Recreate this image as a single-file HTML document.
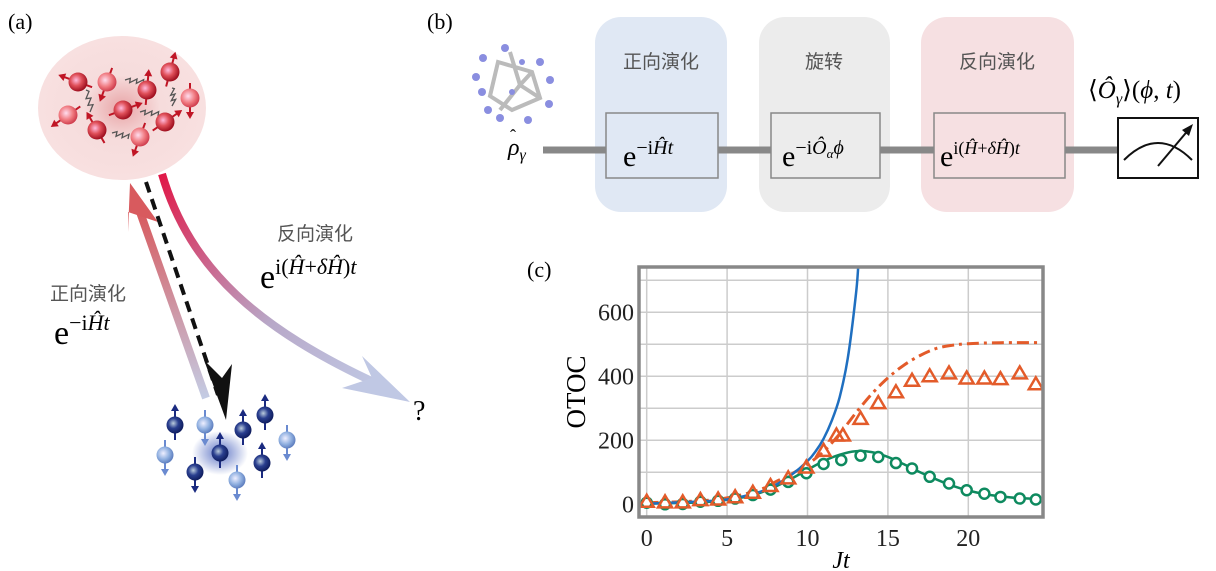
<!DOCTYPE html>
<html><head><meta charset="utf-8"><style>
body{margin:0;background:#fff;width:1216px;height:571px;overflow:hidden}
svg{display:block}
text{font-family:"Liberation Serif","Noto Serif CJK SC",serif}
.cjk{font-family:"Liberation Sans","Noto Sans CJK SC",sans-serif;fill:#555}
</style></head><body>
<svg id="fig" width="1216" height="571" viewBox="0 0 1216 571">
<defs>
<radialGradient id="pinkbg" cx="0.5" cy="0.5" r="0.5"><stop offset="0" stop-color="#e8a4a6"/><stop offset="0.45" stop-color="#f6dcdc"/><stop offset="1" stop-color="#f8e0e0"/></radialGradient>
<radialGradient id="redball" cx="0.4" cy="0.4" r="0.6"><stop offset="0" stop-color="#fbd"/><stop offset="0.5" stop-color="#e0505a"/><stop offset="1" stop-color="#a01020"/></radialGradient>
<radialGradient id="redball2" cx="0.4" cy="0.4" r="0.6"><stop offset="0" stop-color="#fde"/><stop offset="0.6" stop-color="#f07a80"/><stop offset="1" stop-color="#d04050"/></radialGradient>
<radialGradient id="blueball" cx="0.4" cy="0.4" r="0.6"><stop offset="0" stop-color="#bcd"/><stop offset="0.5" stop-color="#2a3f8f"/><stop offset="1" stop-color="#101e60"/></radialGradient>
<radialGradient id="blueball2" cx="0.4" cy="0.4" r="0.6"><stop offset="0" stop-color="#eef"/><stop offset="0.6" stop-color="#90b0e0"/><stop offset="1" stop-color="#6080c0"/></radialGradient>
<radialGradient id="blueglow" cx="0.5" cy="0.5" r="0.5"><stop offset="0" stop-color="#3a56b8"/><stop offset="1" stop-color="#3a56b8" stop-opacity="0"/></radialGradient>
<linearGradient id="upArrow" x1="0" y1="1" x2="0" y2="0"><stop offset="0" stop-color="#c4cce4"/><stop offset="1" stop-color="#d85a5e"/></linearGradient>
<linearGradient id="curveArrow" x1="0" y1="0" x2="1" y2="1"><stop offset="0" stop-color="#e01848"/><stop offset="0.6" stop-color="#b8a8c8"/><stop offset="1" stop-color="#c0c8e4"/></linearGradient>
</defs>

<!-- Panel a -->
<text x="8" y="29" font-size="22">(a)</text>
<ellipse cx="122" cy="108" rx="84" ry="72" fill="url(#pinkbg)"/>
<g id="redspins"></g>
<path d="M206,398 L140,212" stroke="url(#upArrow)" stroke-width="8" fill="none"/>
<polygon points="130,183 158,222 128,212 128,232" fill="#d85a5e"/>
<path d="M146,182 L218,395" stroke="#111" stroke-width="4" stroke-dasharray="11,7" fill="none"/>
<polygon points="226,420 204,360 222,378 232,364" fill="#111"/>
<path d="M162,174 C190,270 260,330 380,385" stroke="url(#curveArrow)" stroke-width="8" fill="none"/>
<polygon points="410,402 342,388 372,378 362,356" fill="#c0c8e4"/>
<text x="277" y="240" font-size="19" class="cjk">反向演化</text>
<text x="260" y="288" font-size="34">e<tspan font-size="22" dy="-14">i(</tspan><tspan font-size="22" font-style="italic">Ĥ</tspan><tspan font-size="22">+</tspan><tspan font-size="22" font-style="italic">δĤ</tspan><tspan font-size="22">)</tspan><tspan font-size="22" font-style="italic">t</tspan></text>
<text x="50" y="300" font-size="19" class="cjk">正向演化</text>
<text x="54" y="344" font-size="34">e<tspan font-size="22" dy="-14">−i</tspan><tspan font-size="22" font-style="italic">Ĥt</tspan></text>
<text x="413" y="420" font-size="28">?</text>
<ellipse cx="220" cy="453" rx="28" ry="22" fill="url(#blueglow)" opacity="0.8"/>
<g id="bluespins"></g>

<!-- Panel b -->
<text x="427" y="29" font-size="22">(b)</text>
<g stroke="#bbb" stroke-width="4" fill="none">
<path d="M498,62 L532,72 L540,98 L512,110 L490,96 Z M510,52 L520,85 L500,110 M532,72 L520,85 L540,98"/>
<g fill="#8a8ee0" stroke="none">
<circle cx="483" cy="58" r="4"/><circle cx="505" cy="48" r="4"/><circle cx="540" cy="62" r="4"/><circle cx="482" cy="92" r="4"/><circle cx="476" cy="77" r="4"/><circle cx="550" cy="80" r="4"/><circle cx="549" cy="104" r="4"/><circle cx="500" cy="118" r="4"/><circle cx="528" cy="120" r="4"/><circle cx="512" cy="92" r="3"/><circle cx="522" cy="62" r="3"/><circle cx="488" cy="110" r="4"/>
</g></g>
<rect x="595" y="17" width="132" height="195" rx="26" fill="#e0e8f4"/>
<rect x="759" y="17" width="131" height="195" rx="26" fill="#ececec"/>
<rect x="921" y="17" width="153" height="195" rx="26" fill="#f6e0e2"/>
<text x="661" y="68" font-size="19" class="cjk" text-anchor="middle">正向演化</text>
<text x="824" y="68" font-size="19" class="cjk" text-anchor="middle">旋转</text>
<text x="997" y="68" font-size="19" class="cjk" text-anchor="middle">反向演化</text>
<line x1="543" y1="150" x2="1118" y2="150" stroke="#888" stroke-width="7"/>
<rect x="606" y="113" width="112" height="65" fill="#e0e8f4" stroke="#888" stroke-width="1.5"/>
<rect x="771" y="113" width="109" height="65" fill="#ececec" stroke="#888" stroke-width="1.5"/>
<rect x="934" y="113" width="131" height="65" fill="#f6e0e2" stroke="#888" stroke-width="1.5"/>
<text x="623" y="166" font-size="30">e<tspan font-size="20" dy="-12">−i</tspan><tspan font-size="20" font-style="italic">Ĥt</tspan></text>
<text x="782" y="166" font-size="30">e<tspan font-size="20" dy="-12">−i</tspan><tspan font-size="20" font-style="italic">Ô</tspan><tspan font-size="13" font-style="italic" dy="4">α</tspan><tspan font-size="20" font-style="italic" dy="-4">ϕ</tspan></text>
<text x="940" y="166" font-size="30">e<tspan font-size="18" dy="-12">i(</tspan><tspan font-size="18" font-style="italic">Ĥ</tspan><tspan font-size="18">+</tspan><tspan font-size="18" font-style="italic">δĤ</tspan><tspan font-size="18">)</tspan><tspan font-size="18" font-style="italic">t</tspan></text>
<text x="508" y="155" font-size="24" font-style="italic">ρ<tspan font-size="16" dy="5">γ</tspan></text>
<text x="510" y="142" font-size="18">ˆ</text>
<rect x="1118" y="118" width="80" height="60" fill="#fff" stroke="#111" stroke-width="2"/>
<path d="M1124,160 Q1158,126 1192,160" stroke="#111" stroke-width="2" fill="none"/>
<line x1="1158" y1="166" x2="1190" y2="128" stroke="#111" stroke-width="2"/>
<polygon points="1193,124 1182,130 1189,136" fill="#111"/>
<text x="1088" y="98" font-size="25">⟨<tspan font-style="italic">Ô</tspan><tspan font-size="16" font-style="italic" dy="6">γ</tspan><tspan dy="-6">⟩(</tspan><tspan font-style="italic">ϕ</tspan>, <tspan font-style="italic">t</tspan>)</text>

<!-- Panel c -->
<text x="527" y="277" font-size="22">(c)</text>
<g id="chart"></g>
</svg>
<script>
// ---- chart data ----
var xTicks = [0, 5, 10, 15, 20];
var yTicks = [0, 200, 400, 600];
var tri_t = [0,1.14,2.24,3.34,4.44,5.5,6.6,7.7,8.8,9.93,11.0,11.8,12.2,13.3,14.4,15.5,16.5,17.6,18.8,19.9,21.0,22.0,23.2,24.2];
var tri_v = [8,6,6,13,15,22,36,57,81,115,167,215,215,267,316,350,386,400,409,393,393,391,409,375];
var circ_t = [0,1.14,2.24,3.34,4.44,5.5,6.6,7.7,8.8,9.93,11.0,12.1,13.3,14.4,15.5,16.5,17.6,18.8,19.9,21.0,22.0,23.2,24.2];
var circ_v = [5,0,1,8,11,18,29,46,70,97,126,138,152,148,129,112,86,65,44,33,23,18,15];
var green_t = [0,2,4,6,7,8,9,10,11,12,13,14,15,16,17,18,19,20,21,22,23,24.6];
var green_v = [2,4,8,22,35,55,80,108,135,155,166,163,148,125,100,78,58,43,32,25,20,16];
var orange_t = [0,3,5,7,8,9,10,11,12,13,14,15,16,17,18,19,20,22,24.6];
var orange_v = [5,10,20,45,70,95,125,165,220,285,345,395,435,465,487,497,502,505,505];
var blue_t = [0,3,5,7,8,9,10,10.5,11,11.5,12,12.5,13,13.15];
var blue_v = [2,8,15,38,60,92,135,165,205,260,335,455,650,741];

var X0=646.7, XS=16.08, Y0=504.3, YS=0.32;
var L=639, R=1043, T=267, B=517;
function sx(v){return X0+v*XS;}
function sy(v){return Y0-v*YS;}
var NS='http://www.w3.org/2000/svg';
function mk(tag, attrs, parent){var e=document.createElementNS(NS,tag);for(var k in attrs)e.setAttribute(k,attrs[k]);parent.appendChild(e);return e;}
var g=document.getElementById('chart');
var bg=mk('rect',{x:L,y:T,width:R-L,height:B-T,fill:'#fff'},g);


var clip=mk('clipPath',{id:'pc'},g);mk('rect',{x:L,y:T,width:R-L,height:B-T},clip);
for(var i=0;i<xTicks.length;i++){var gl=mk('line',{x1:sx(xTicks[i]),x2:sx(xTicks[i]),y1:T,y2:B,stroke:'#ccc','stroke-width':1.5},g);


var tl=mk('text',{x:sx(xTicks[i]),y:B+29,'font-size':24,'text-anchor':'middle',fill:'#222'},g);tl.textContent=xTicks[i];

}
for(var v=100;v<=700;v+=100){var hl=mk('line',{x1:L,x2:R,y1:sy(v),y2:sy(v),stroke:'#ccc','stroke-width':1.5},g);

}
for(var i=0;i<yTicks.length;i++){var yl=mk('text',{x:L-5,y:sy(yTicks[i])+8,'font-size':24,'text-anchor':'end',fill:'#222'},g);yl.textContent=yTicks[i];

}
function line(ts,vs,attrs,name){
var P=ts.map(function(t,i){return [sx(t),sy(vs[i])];});
var d='M'+P[0][0].toFixed(1)+','+P[0][1].toFixed(1);
for(var i=0;i<P.length-1;i++){var p0=P[Math.max(0,i-1)],p1=P[i],p2=P[i+1],p3=P[Math.min(P.length-1,i+2)];
d+='C'+(p1[0]+(p2[0]-p0[0])/6).toFixed(1)+','+(p1[1]+(p2[1]-p0[1])/6).toFixed(1)+' '+(p2[0]-(p3[0]-p1[0])/6).toFixed(1)+','+(p2[1]-(p3[1]-p1[1])/6).toFixed(1)+' '+p2[0].toFixed(1)+','+p2[1].toFixed(1);}
attrs.d=d;attrs.fill='none';attrs['clip-path']='url(#pc)';var p=mk('path',attrs,g);

}
line(green_t,green_v,{stroke:'#0e8a5f','stroke-width':2.5},'green-theory-line');
line(orange_t,orange_v,{stroke:'#e35b2a','stroke-width':3,'stroke-dasharray':'12,5,3,5'},'orange-theory-line');
line(blue_t,blue_v,{stroke:'#1f6fc0','stroke-width':2.5},'blue-theory-line');
for(var i=0;i<circ_t.length;i++){var c=mk('circle',{cx:sx(circ_t[i]),cy:sy(circ_v[i]),r:5,fill:'#fff',stroke:'#0e8a5f','stroke-width':2.5,'clip-path':'url(#pc)'},g);

}
for(var i=0;i<tri_t.length;i++){var x=sx(tri_t[i]),y=sy(tri_v[i]);
var t=mk('polygon',{points:(x)+','+(y-7)+' '+(x-7)+','+(y+5)+' '+(x+7)+','+(y+5),fill:'none',stroke:'#e35b2a','stroke-width':2.5,'clip-path':'url(#pc)'},g);

}
var fr=mk('rect',{x:L,y:T,width:R-L,height:B-T,fill:'none',stroke:'#888','stroke-width':3.5},g);


var xt=mk('text',{x:(L+R)/2,y:568,'font-size':24,'font-style':'italic','text-anchor':'middle'},g);xt.textContent='Jt';


var yt=mk('text',{x:0,y:0,'font-size':27,'text-anchor':'middle',transform:'translate(585,392) rotate(-90)'},g);yt.textContent='OTOC';



// ---- spins ----
function spin(parent,x,y,ang,fill,col,name,r){var s=mk('g',{},parent);


var a=ang*Math.PI/180,dx=Math.sin(a),dy=-Math.cos(a);
mk('line',{x1:x-dx*15,y1:y-dy*15,x2:x+dx*16,y2:y+dy*16,stroke:col,'stroke-width':2},s);
mk('polygon',{points:(x+dx*21)+','+(y+dy*21)+' '+(x+dx*14-dy*4)+','+(y+dy*14+dx*4)+' '+(x+dx*14+dy*4)+','+(y+dy*14-dx*4),fill:col},s);
mk('circle',{cx:x,cy:y,r:r,fill:fill},s);}
var rs=document.getElementById('redspins');
var wig=[[86,90,92,110],[125,80,145,82],[172,88,174,104],[140,112,160,114],[112,133,130,137]];
wig.forEach(function(w){var d='M'+w[0]+','+w[1];var n=6;for(var k=1;k<=n;k++){var x=w[0]+(w[2]-w[0])*k/n,y=w[1]+(w[3]-w[1])*k/n;d+=' L'+(x+(k%2?2:-2))+','+(y+(k%2?-2:2));}
var p=mk('path',{d:d,stroke:'#555','stroke-width':1.3,fill:'none'},rs);

});
[[78,82,-70,1],[107,82,200,0],[147,90,5,1],[170,72,15,1],[190,98,180,0],[68,115,235,0],[123,110,70,1],[165,122,55,1],[97,130,-30,1],[140,137,200,0]].forEach(function(p){spin(rs,p[0],p[1],p[2],p[3]?'url(#redball)':'url(#redball2)','#c01525','red-spin',9.5);});
var bs=document.getElementById('bluespins');
[[175,425,0,1],[205,425,180,0],[243,430,0,1],[265,415,0,1],[287,440,180,0],[165,455,180,0],[220,453,0,1],[262,463,0,1],[195,472,180,1],[237,480,180,0]].forEach(function(p){spin(bs,p[0],p[1],p[2],p[3]?'url(#blueball)':'url(#blueball2)',p[3]?'#1a2a80':'#6a8ad0','blue-spin',8.5);});
</script>
</body></html>
